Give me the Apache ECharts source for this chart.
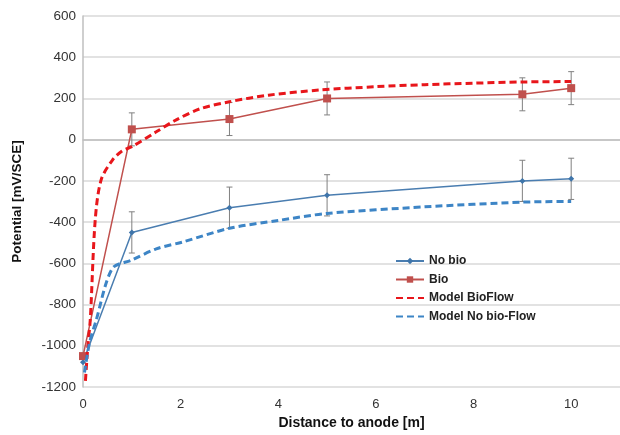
<!DOCTYPE html>
<html>
<head>
<meta charset="utf-8">
<script src="https://cdn.jsdelivr.net/npm/echarts@6/dist/echarts.min.js"></script>
<style>html,body{margin:0;padding:0;background:#fff}#c{width:620px;height:435px}</style>
</head>
<body>
<div id="c"></div>
<script>
// Measured data
const distX = [0, 1, 3, 5, 9, 10];
const noBio = [-1080, -450, -330, -270, -200, -190];
const noBioErr = [0, 100, 100, 100, 100, 100];
const bio = [-1050, 50, 100, 200, 220, 250];
const bioErr = [0, 80, 80, 80, 80, 80];

// Model curves
const modelBioX = [0.05, 0.1, 0.15, 0.25, 0.37, 0.6, 0.8, 1.0, 1.5, 1.9, 2.4, 3, 3.8, 4.85, 6, 7, 8, 9, 10];
const modelBioY = [-1170, -1000, -870, -390, -196, -100, -55, -34, 38, 95, 150, 184, 216, 241, 257, 267, 274, 280, 282];
const modelNoBioX = [0.03, 0.13, 0.27, 0.6, 1.0, 1.5, 2.05, 3, 4, 5, 7, 9, 10];
const modelNoBioY = [-1130, -990, -876, -625, -584, -530, -496, -430, -392, -358, -326, -303, -300];

// Axis ticks
const yMin = -1200, yMax = 600, yStep = 200;
const xMin = 0, xMax = 11, xStep = 2;

const pairs = (xs, ys) => xs.map((x, i) => [x, ys[i]]);
const errData = (xs, ys, es) => xs.map((x, i) => [x, ys[i] - es[i], ys[i] + es[i]]).filter((d, i) => es[i] > 0);

function errRender(params, api) {
  const x = api.value(0);
  const lo = api.coord([x, api.value(1)]);
  const hi = api.coord([x, api.value(2)]);
  const w = 3;
  const st = { stroke: '#808080', lineWidth: 1 };
  return {
    type: 'group',
    children: [
      { type: 'line', shape: { x1: lo[0], y1: lo[1], x2: hi[0], y2: hi[1] }, style: st },
      { type: 'line', shape: { x1: lo[0] - w, y1: lo[1], x2: lo[0] + w, y2: lo[1] }, style: st },
      { type: 'line', shape: { x1: hi[0] - w, y1: hi[1], x2: hi[0] + w, y2: hi[1] }, style: st }
    ]
  };
}

const chart = echarts.init(document.getElementById('c'));
const font = 'Liberation Sans, Arial, sans-serif';
chart.setOption({
  animation: false,
  textStyle: { fontFamily: font },
  grid: { left: 83, right: 0, top: 16, bottom: 48 },
  legend: {
    orient: 'vertical',
    left: 390,
    top: 250,
    itemWidth: 28,
    itemHeight: 8,
    itemGap: 6.5,
    textStyle: { fontFamily: font, fontSize: 12, fontWeight: 'bold', color: '#222' },
    data: [
      'No bio', 'Bio',
      { name: 'Model BioFlow', itemStyle: { opacity: 0 } },
      { name: 'Model No bio-Flow', itemStyle: { opacity: 0 } }
    ]
  },
  xAxis: {
    type: 'value', min: xMin, max: xMax, interval: xStep,
    name: 'Distance to anode [m]', nameLocation: 'middle', nameGap: 28,
    nameTextStyle: { fontFamily: font, fontSize: 14, fontWeight: 'bold', color: '#111' },
    axisLine: { show: true, lineStyle: { color: '#bfbfbf', width: 1.5 } },
    axisTick: { show: false },
    splitLine: { show: false },
    axisLabel: { showMaxLabel: false, fontSize: 13, color: '#333', margin: 11 }
  },
  yAxis: {
    type: 'value', min: yMin, max: yMax, interval: yStep,
    name: 'Potential [mV/SCE]', nameLocation: 'middle', nameGap: 59, nameRotate: 90,
    nameTextStyle: { fontFamily: font, fontSize: 13.5, fontWeight: 'bold', color: '#111' },
    axisLine: { show: true, lineStyle: { color: '#bfbfbf', width: 1.5 } },
    axisTick: { show: false },
    splitLine: { show: true, lineStyle: { color: '#d9d9d9', width: 1.5 } },
    axisLabel: { fontSize: 13.5, color: '#333', margin: 7, formatter: v => String(v) }
  },
  series: [
    {
      name: 'err-nobio', type: 'custom', renderItem: errRender,
      data: errData(distX, noBio, noBioErr), z: 1, silent: true
    },
    {
      name: 'err-bio', type: 'custom', renderItem: errRender,
      data: errData(distX, bio, bioErr), z: 1, silent: true
    },
    {
      name: 'No bio', type: 'line', data: pairs(distX, noBio),
      symbol: 'diamond', symbolSize: 6,
      lineStyle: { color: '#4a7db0', width: 1.5 },
      itemStyle: { color: '#3f75aa' }, z: 3
    },
    {
      name: 'Bio', type: 'line', data: pairs(distX, bio),
      symbol: 'rect', symbolSize: 8,
      lineStyle: { color: '#c0504d', width: 1.5 },
      itemStyle: { color: '#c0504d' }, z: 3
    },
    {
      name: 'Model BioFlow', type: 'line', data: pairs(modelBioX, modelBioY),
      symbol: 'none', smooth: 0.3,
      lineStyle: { color: '#e8161b', width: 3, type: [7, 4] },
      itemStyle: { color: '#e8161b' }, z: 4
    },
    {
      name: 'Model No bio-Flow', type: 'line', data: pairs(modelNoBioX, modelNoBioY),
      symbol: 'none', smooth: 0.3,
      lineStyle: { color: '#3d85c6', width: 3, type: [7, 4] },
      itemStyle: { color: '#3d85c6' }, z: 4
    }
  ]
});
</script>
</body>
</html>
